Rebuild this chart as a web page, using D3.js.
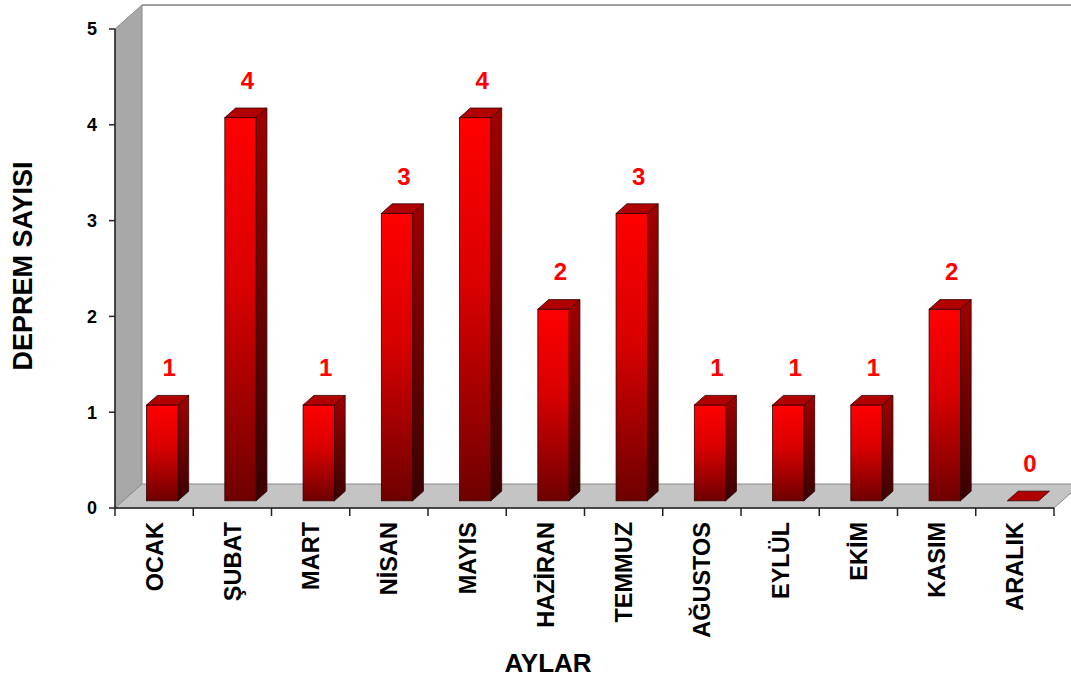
<!DOCTYPE html>
<html>
<head>
<meta charset="utf-8">
<script src="https://cdn.jsdelivr.net/npm/d3@7"></script>
<style>
  body { margin: 0; background: #fff; }
  text { font-family: "Liberation Sans", Arial, sans-serif; font-weight: bold; }
</style>
</head>
<body>
<div id="chart-area"></div>
<script>
// Data
const MONTHS = ['OCAK', 'ŞUBAT', 'MART', 'NİSAN', 'MAYIS', 'HAZİRAN', 'TEMMUZ', 'AĞUSTOS', 'EYLÜL', 'EKİM', 'KASIM', 'ARALIK'];
const COUNTS = [1, 4, 1, 3, 4, 2, 3, 1, 1, 1, 2, 0];
const Y_TICKS = [0, 1, 2, 3, 4, 5];

// Constants
const W = 1071, H = 679;
const PLOT = { LEFT: 115, RIGHT: 1054, TOP: 29, BOTTOM: 508 };
const DEPTH = { DX: 27, DY: -24 };
const BAR_T0 = 0.3, BAR_T1 = 0.7;

const svg = d3.select('#chart-area')
    .append('svg')
    .attr('width', W)
    .attr('height', H);

const x = d3.scaleBand()
    .domain(MONTHS)
    .range([PLOT.LEFT, PLOT.RIGHT])
    .paddingInner(0.6)
    .paddingOuter(0.3);

const y = d3.scaleLinear()
    .domain([0, 5])
    .range([PLOT.BOTTOM, PLOT.TOP]);

// project a point at depth t (0 front, 1 back)
const P = (px, py, t) => [px + t * DEPTH.DX, py + t * DEPTH.DY];
const poly = pts => pts.map(p => p.join(',')).join(' ');

// Gradients
const defs = svg.append('defs');
function grad(id, stops) {
    const g = defs.append('linearGradient').attr('id', id)
        .attr('x1', 0).attr('y1', 0).attr('x2', 0).attr('y2', 1);
    stops.forEach(s => g.append('stop').attr('offset', s[0]).attr('stop-color', s[1]));
}
grad('front', [[0, '#ff0000'], [0.45, '#d80000'], [1, '#6e0000']]);
grad('side', [[0, '#a00000'], [1, '#3a0000']]);

const x0 = PLOT.LEFT, x1 = PLOT.RIGHT, y0 = PLOT.BOTTOM, yT = PLOT.TOP;

// Back wall
const bw = svg.append('g');
bw.append('polygon')
    .attr('points', poly([P(x0, yT, 1), P(x1 + 40, yT, 1), P(x1 + 40, y0, 1), P(x0, y0, 1)]))
    .attr('fill', '#fff');
bw.append('line')
    .attr('x1', P(x0, yT, 1)[0]).attr('y1', P(x0, yT, 1)[1])
    .attr('x2', W).attr('y2', P(x0, yT, 1)[1])
    .attr('stroke', '#a0a0a0').attr('stroke-width', 2);

// Side wall
svg.append('polygon')
    .attr('points', poly([P(x0, yT, 0), P(x0, yT, 1), P(x0, y0, 1), P(x0, y0, 0)]))
    .attr('fill', '#a8a8a8')
    .attr('stroke', '#8a8a8a');

// Floor
svg.append('polygon')
    .attr('points', poly([P(x0, y0, 0), P(x1, y0, 0), P(x1, y0, 1), P(x0, y0, 1)]))
    .attr('fill', '#c4c4c4')
    .attr('stroke', '#8a8a8a');

// Bars
const bars = svg.append('g').selectAll('g')
    .data(MONTHS.map((m, i) => ({ m, v: COUNTS[i] })))
    .enter().append('g');

bars.each(function (d) {
    const g = d3.select(this);
    const bl = x(d.m), br = x(d.m) + x.bandwidth();
    const yt = y(d.v), yb = y(0);
    if (d.v > 0) {
        g.append('polygon')
            .attr('points', poly([P(br, yt, BAR_T0), P(br, yt, BAR_T1), P(br, yb, BAR_T1), P(br, yb, BAR_T0)]))
            .attr('fill', 'url(#side)').attr('stroke', '#300000').attr('stroke-width', 0.8);
        const f0 = P(bl, yt, BAR_T0), f1 = P(br, yb, BAR_T0);
        g.append('rect')
            .attr('x', f0[0]).attr('y', f0[1])
            .attr('width', f1[0] - f0[0]).attr('height', f1[1] - f0[1])
            .attr('fill', 'url(#front)').attr('stroke', '#300000').attr('stroke-width', 0.8);
    }
    g.append('polygon')
        .attr('points', poly([P(bl, yt, BAR_T0), P(br, yt, BAR_T0), P(br, yt, BAR_T1), P(bl, yt, BAR_T1)]))
        .attr('fill', '#b00000').attr('stroke', '#300000').attr('stroke-width', 0.8);
});

// Value labels
svg.append('g').selectAll('text')
    .data(MONTHS.map((m, i) => ({ m, v: COUNTS[i] })))
    .enter().append('text')
    .attr('x', d => x(d.m) + x.bandwidth() / 2 + 15)
    .attr('y', d => y(d.v) - 36)
    .attr('text-anchor', 'middle')
    .attr('font-size', 24)
    .attr('fill', '#ff0000')
    .text(d => d.v);

// Y axis
const yAxis = svg.append('g');
yAxis.append('line')
    .attr('x1', x0).attr('x2', x0).attr('y1', yT).attr('y2', y0)
    .attr('stroke', '#222').attr('stroke-width', 1.5);
yAxis.selectAll('.tk').data(Y_TICKS).enter().append('line')
    .attr('x1', x0 - 6).attr('x2', x0).attr('y1', d => y(d)).attr('y2', d => y(d))
    .attr('stroke', '#222').attr('stroke-width', 1.5);
yAxis.selectAll('text').data(Y_TICKS).enter().append('text')
    .attr('x', 97).attr('y', d => y(d))
    .attr('dy', '0.36em')
    .attr('text-anchor', 'end')
    .attr('font-size', 18)
    .text(d => d);

// X axis
const xAxis = svg.append('g');
xAxis.append('line')
    .attr('x1', x0).attr('x2', x1).attr('y1', y0).attr('y2', y0)
    .attr('stroke', '#222').attr('stroke-width', 1.5);
const edges = MONTHS.map(m => x(m) - x.step() * 0.3).concat([x1]);
xAxis.selectAll('.tk').data(edges).enter().append('line')
    .attr('x1', d => d).attr('x2', d => d).attr('y1', y0).attr('y2', y0 + 8)
    .attr('stroke', '#222').attr('stroke-width', 1.5);
xAxis.selectAll('text').data(MONTHS).enter().append('text')
    .attr('transform', d => `translate(${x(d) + x.bandwidth() / 2}, 522) rotate(-90)`)
    .attr('dy', '0.36em')
    .attr('text-anchor', 'end')
    .attr('font-size', 23.5)
    .text(d => d);

// Axis titles
svg.append('text')
    .attr('transform', 'translate(22, 266) rotate(-90)')
    .attr('dy', '0.36em')
    .attr('text-anchor', 'middle')
    .attr('font-size', 27)
    .text('DEPREM SAYISI');

svg.append('text')
    .attr('x', 548).attr('y', 672)
    .attr('text-anchor', 'middle')
    .attr('font-size', 26)
    .text('AYLAR');
</script>
</body>
</html>
